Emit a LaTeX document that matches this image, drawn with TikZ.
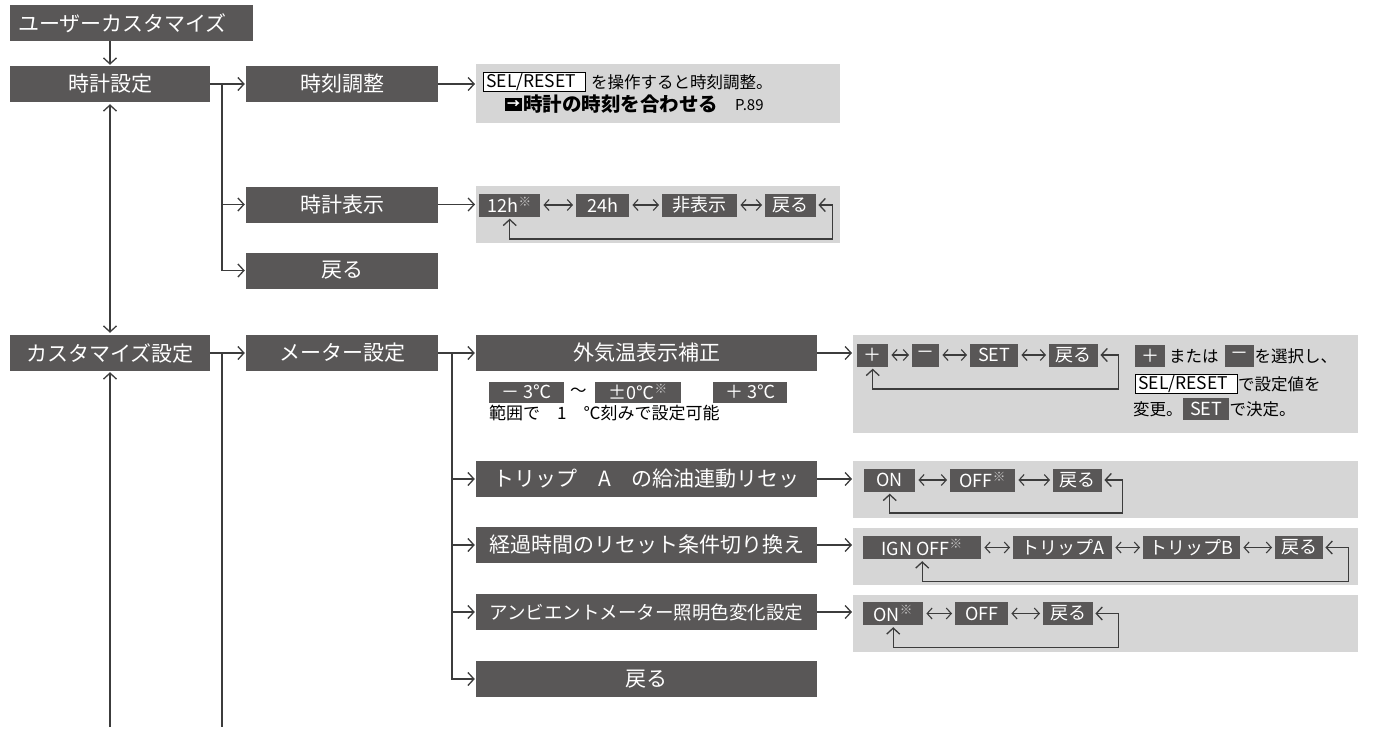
\documentclass[tikz,border=0pt]{standalone}
\usepackage{fontspec}
\setmainfont{Noto Sans CJK JP}
\usetikzlibrary{arrows.meta}
\definecolor{boxgray}{RGB}{89,87,87}
\definecolor{panelgray}{RGB}{214,214,214}
\definecolor{linegray}{RGB}{60,60,60}
\newcommand{\menufont}{\fontsize{21}{24}\selectfont}
\newcommand{\itemfont}{\fontsize{18}{20}\selectfont}
\newcommand{\notefont}{\fontsize{16.5}{19}\selectfont}
\newcommand{\kome}{\textsuperscript{\textcolor{white!65!boxgray}{※}}}
\tikzset{
  menu/.style={fill=boxgray, text=white, font=\menufont, minimum height=36pt, inner sep=0pt},
  item/.style={fill=boxgray, text=white, font=\itemfont, minimum height=23pt, inner sep=0pt, anchor=west},
  panel/.style={fill=panelgray, anchor=north west, inner sep=0pt},
  note/.style={font=\notefont, anchor=west, inner sep=0pt},
  keybox/.style={draw=black, fill=white, line width=0.8pt, font=\fontsize{17.5}{20}\selectfont, text width=96pt, align=left, inner xsep=3pt, inner ysep=1pt, anchor=west},
  line/.style={draw=linegray, line width=1.3pt},
  link/.style={line, -{Straight Barb[length=6pt,width=13pt]}, shorten >=1pt},
  both/.style={line, {Straight Barb[length=6pt,width=13pt]}-{Straight Barb[length=6pt,width=13pt]}, shorten >=2pt, shorten <=2pt},
  swap/.style={line, line width=1.1pt, {Straight Barb[length=5pt,width=11pt]}-{Straight Barb[length=5pt,width=11pt]}, shorten >=3pt, shorten <=3pt},
}
\begin{document}
\begin{tikzpicture}[x=1pt,y=-1pt]
    \useasboundingbox (0,0) rectangle (1376,734);

    \node[menu, text width=227pt, align=left, inner xsep=8pt] (user) at (131.5,23) {ユーザーカスタマイズ};
    \node[menu, minimum width=200pt] (clock) at (110,84) {時計設定};
    \node[menu, minimum width=192pt] (clockadj) at (342,84) {時刻調整};
    \node[menu, minimum width=192pt] (clockdisp) at (342,204.5) {時計表示};
    \node[menu, minimum width=192pt] (clockback) at (342,270.5) {戻る};
    \node[menu, minimum width=200pt] (custom) at (110,353) {カスタマイズ設定};
    \node[menu, minimum width=192pt] (meter) at (342,353) {メーター設定};
    \node[menu, minimum width=341pt] (temp) at (646.5,353) {外気温表示補正};
    \node[menu, minimum width=341pt] (trip) at (646.5,479) {トリップ　A　の給油連動リセッ};
    \node[menu, minimum width=341pt] (elapsed) at (646.5,545) {経過時間のリセット条件切り換え};
    \node[menu, minimum width=341pt, font=\fontsize{18.5}{22}\selectfont] (ambient) at (646.5,612) {アンビエントメーター照明色変化設定};
    \node[menu, minimum width=341pt] (meterback) at (646.5,679) {戻る};

    \coordinate (clockfork) at (222,84);
    \coordinate (customfork) at (222,353);
    \coordinate (meterfork) at (452,353);
    \coordinate (userend) at (110,727);
    \coordinate (customend) at (222,727);

    \draw[link] (clock.north |- user.south) -- (clock.north);
    \draw[both] (clock.south) -- (custom.north);
    \draw[link] (userend) -- (custom.south);
    \draw[line] (clock.east) -- (clockfork);
    \draw[link] (clockfork) -- (clockadj.west);
    \draw[link] (clockfork) |- (clockdisp.west);
    \draw[link] (clockfork) |- (clockback.west);
    \draw[line] (custom.east) -- (customfork);
    \draw[link] (customfork) -- (meter.west);
    \draw[line] (customfork) -- (customend);
    \draw[line] (meter.east) -- (meterfork);
    \draw[link] (meterfork) -- (temp.west);
    \draw[link] (meterfork) |- (trip.west);
    \draw[link] (meterfork) |- (elapsed.west);
    \draw[link] (meterfork) |- (ambient.west);
    \draw[link] (meterfork) |- (meterback.west);

    % clock panels
    \node[panel, minimum width=364pt, minimum height=59pt] (adjpanel) at (476,64) {};
    \node[keybox] (adjkey) at (483,82) {SEL/RESET};
    \node[note] (adjtext) at (591,82) {を操作すると時刻調整。};
    \node[fill=black, text=white, inner sep=0pt, minimum width=17pt, minimum height=13pt, font=\bfseries\fontsize{13}{13}\selectfont] (adjicon) at (513.5,104) {→};
    \node[note, font=\bfseries\fontsize{19.5}{22}\selectfont] (adjref) at (523,104) {時計の時刻を合わせる};
    \node[note, font=\fontsize{15}{18}\selectfont] (adjpage) at (735,105) {P.89};
    \draw[link] (clockadj.east) -- (clockadj.east -| adjpanel.west);

    \node[panel, minimum width=364pt, minimum height=57pt] (disppanel) at (476,186) {};
    \node[item, minimum width=61pt] (h12) at (479,205) {12h\kome};
    \node[item, minimum width=53pt] (h24) at (576,205) {24h};
    \node[item, minimum width=75pt] (hide) at (662,205) {非表示};
    \node[item, minimum width=51pt] (dispback) at (765,205) {戻る};
    \draw[swap] (h12) -- (h24);
    \draw[swap] (h24) -- (hide);
    \draw[swap] (hide) -- (dispback);
    \draw[both] (dispback.east) -- ++(16,0) -- ++(0,34) -| (h12.south);
    \draw[link] (clockdisp.east) -- (clockdisp.east -| disppanel.west);

    % temperature
    \node[item, minimum width=75pt, minimum height=21pt] (tlow) at (489,392) {－ 3℃};
    \node[note] (ttilde) at (570,392) {〜};
    \node[item, minimum width=86pt, minimum height=21pt] (tzero) at (595,392) {±0℃\kome};
    \node[item, minimum width=74pt, minimum height=21pt] (thigh) at (713,392) {＋ 3℃};
    \node[note, font=\fontsize{17}{20}\selectfont] (trange) at (489,413) {範囲で　1　℃刻みで設定可能};

    \node[panel, minimum width=505pt, minimum height=98pt] (temppanel) at (853,335) {};
    \node[item, minimum width=31pt] (tplus) at (857,355) {＋};
    \node[item, minimum width=27pt] (tminus) at (912,355) {－};
    \node[item, minimum width=48pt] (tset) at (970,355) {SET};
    \node[item, minimum width=49pt] (tempback) at (1049,355) {戻る};
    \draw[swap] (tplus) -- (tminus);
    \draw[swap] (tminus) -- (tset);
    \draw[swap] (tset) -- (tempback);
    \draw[both] (tempback.east) -- ++(20,0) -- ++(0,34) -| (tplus.south);
    \node[item, minimum width=30pt, minimum height=22pt] (hplus) at (1135,356) {＋};
    \node[note] (hor) at (1169,356) {または};
    \node[item, minimum width=29pt, minimum height=22pt] (hminus) at (1225,356) {－};
    \node[note] (hselect) at (hminus.east) {を選択し、};
    \node[keybox] (hkey) at (1135,384) {SEL/RESET};
    \node[note] (hvalue) at (hkey.east) {で設定値を};
    \node[note] (hchange) at (1133,409) {変更。};
    \node[item, minimum width=46pt, minimum height=22pt] (hset) at (1183,409) {SET};
    \node[note] (hdecide) at (hset.east) {で決定。};
    \draw[link] (temp.east) -- (temp.east -| temppanel.west);

    % trip
    \node[panel, minimum width=505pt, minimum height=57pt] (trippanel) at (853,461) {};
    \node[item, minimum width=51pt] (tripon) at (864,480) {ON};
    \node[item, minimum width=65pt] (tripoff) at (950,480) {OFF\kome};
    \node[item, minimum width=49pt] (tripback) at (1053,480) {戻る};
    \draw[swap] (tripon) -- (tripoff);
    \draw[swap] (tripoff) -- (tripback);
    \draw[both] (tripback.east) -- ++(20,0) -- ++(0,33) -| (tripon.south);
    \draw[link] (trip.east) -- (trip.east -| trippanel.west);

    % elapsed time
    \node[panel, minimum width=505pt, minimum height=57pt] (elapsedpanel) at (853,528) {};
    \node[item, minimum width=118pt] (ign) at (863,547.5) {IGN OFF\kome\hspace{12pt}};
    \node[item, minimum width=99pt] (tripa) at (1013,547.5) {トリップA};
    \node[item, minimum width=97pt] (tripb) at (1143,547.5) {トリップB};
    \node[item, minimum width=48pt] (elapsedback) at (1275,547.5) {戻る};
    \draw[swap] (ign) -- (tripa);
    \draw[swap] (tripa) -- (tripb);
    \draw[swap] (tripb) -- (elapsedback);
    \draw[both] (elapsedback.east) -- ++(25,0) -- ++(0,34) -| (ign.south);
    \draw[link] (elapsed.east) -- (elapsed.east -| elapsedpanel.west);

    % ambient
    \node[panel, minimum width=505pt, minimum height=57pt] (ambpanel) at (853,595) {};
    \node[item, minimum width=60pt] (ambon) at (863,613.5) {ON\kome};
    \node[item, minimum width=53pt] (amboff) at (955,613.5) {OFF};
    \node[item, minimum width=50pt] (ambback) at (1043,613.5) {戻る};
    \draw[swap] (ambon) -- (amboff);
    \draw[swap] (amboff) -- (ambback);
    \draw[both] (ambback.east) -- ++(25,0) -- ++(0,34) -| (ambon.south);
    \draw[link] (ambient.east) -- (ambient.east -| ambpanel.west);
\end{tikzpicture}
\end{document}
